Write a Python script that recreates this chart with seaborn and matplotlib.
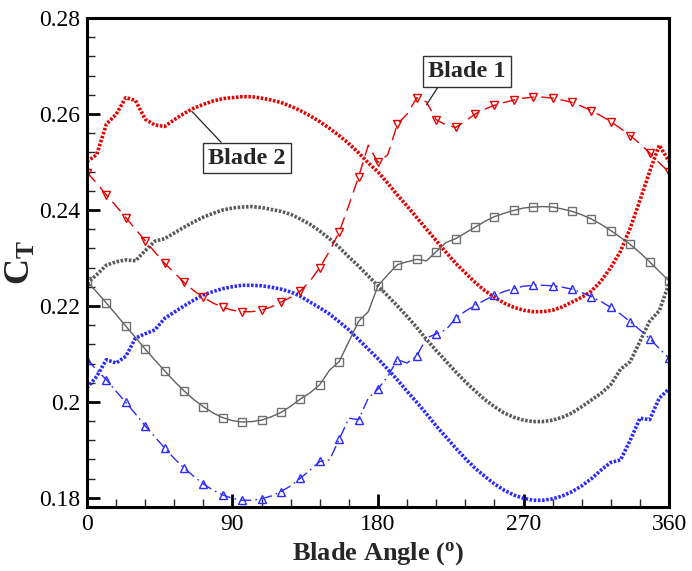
import numpy as np
import pandas as pd
import matplotlib
matplotlib.use("Agg")
import matplotlib.pyplot as plt
import seaborn as sns

# Blade azimuth (deg), sampled every 6 degrees
angle = np.arange(0, 361, 6)

# Thrust coefficient series
blade1_ct = [0.2478, 0.2456, 0.2431, 0.2408, 0.2384, 0.2360, 0.2336, 0.2312, 0.2289, 0.2269,
             0.2249, 0.2232, 0.2218, 0.2206, 0.2197, 0.2191, 0.2188, 0.2188, 0.2191, 0.2198,
             0.2208, 0.2218, 0.2231, 0.2252, 0.2280, 0.2314, 0.2354, 0.2410, 0.2469, 0.2535,
             0.2499, 0.2515, 0.2579, 0.2600, 0.2634, 0.2625, 0.2588, 0.2577, 0.2572, 0.2585,
             0.2600, 0.2610, 0.2618, 0.2624, 0.2629, 0.2633, 0.2635, 0.2635, 0.2633, 0.2629,
             0.2624, 0.2616, 0.2607, 0.2596, 0.2584, 0.2570, 0.2555, 0.2538, 0.2519, 0.2498,
             0.2479]
blade2_ct = [0.2501, 0.2515, 0.2579, 0.2599, 0.2634, 0.2628, 0.2589, 0.2577, 0.2574, 0.2588,
             0.2601, 0.2612, 0.2620, 0.2627, 0.2632, 0.2634, 0.2636, 0.2636, 0.2633, 0.2629,
             0.2624, 0.2616, 0.2607, 0.2596, 0.2584, 0.2570, 0.2555, 0.2538, 0.2519, 0.2498,
             0.2479, 0.2456, 0.2431, 0.2408, 0.2384, 0.2360, 0.2336, 0.2312, 0.2289, 0.2269,
             0.2249, 0.2232, 0.2218, 0.2206, 0.2197, 0.2191, 0.2188, 0.2188, 0.2191, 0.2198,
             0.2208, 0.2218, 0.2231, 0.2252, 0.2280, 0.2314, 0.2362, 0.2420, 0.2480, 0.2535,
             0.2501]
gray_mark_ct = [0.2251, 0.2229, 0.2206, 0.2182, 0.2158, 0.2134, 0.2110, 0.2087, 0.2065, 0.2043,
                0.2023, 0.2005, 0.1990, 0.1977, 0.1967, 0.1961, 0.1958, 0.1959, 0.1962, 0.1969,
                0.1978, 0.1991, 0.2006, 0.2019, 0.2036, 0.2066, 0.2084, 0.2126, 0.2168, 0.2188,
                0.2242, 0.2265, 0.2286, 0.2292, 0.2297, 0.2294, 0.2313, 0.2332, 0.2340, 0.2352,
                0.2364, 0.2376, 0.2386, 0.2393, 0.2399, 0.2404, 0.2406, 0.2407, 0.2406, 0.2402,
                0.2397, 0.2390, 0.2381, 0.2370, 0.2357, 0.2343, 0.2328, 0.2311, 0.2292, 0.2272,
                0.2252]
gray_dot_ct = [0.2247, 0.2265, 0.2285, 0.2292, 0.2296, 0.2294, 0.2315, 0.2335, 0.2340, 0.2352,
               0.2364, 0.2375, 0.2385, 0.2393, 0.2400, 0.2404, 0.2406, 0.2407, 0.2405, 0.2401,
               0.2397, 0.2391, 0.2381, 0.2370, 0.2356, 0.2340, 0.2322, 0.2302, 0.2283, 0.2262,
               0.2242, 0.2221, 0.2200, 0.2178, 0.2155, 0.2130, 0.2107, 0.2085, 0.2063, 0.2042,
               0.2023, 0.2005, 0.1990, 0.1977, 0.1968, 0.1962, 0.1959, 0.1959, 0.1962, 0.1968,
               0.1977, 0.1990, 0.2004, 0.2018, 0.2036, 0.2068, 0.2084, 0.2126, 0.2168, 0.2190,
               0.2247]
blue_mark_ct = [0.2088, 0.2067, 0.2046, 0.2022, 0.1999, 0.1975, 0.1950, 0.1927, 0.1904, 0.1882,
                0.1862, 0.1845, 0.1829, 0.1816, 0.1806, 0.1799, 0.1795, 0.1795, 0.1798, 0.1804,
                0.1813, 0.1825, 0.1841, 0.1858, 0.1876, 0.1879, 0.1922, 0.1966, 0.1963, 0.2008,
                0.2027, 0.2053, 0.2088, 0.2081, 0.2096, 0.2133, 0.2142, 0.2150, 0.2174, 0.2189,
                0.2201, 0.2212, 0.2222, 0.2230, 0.2236, 0.2241, 0.2243, 0.2243, 0.2242, 0.2239,
                0.2235, 0.2228, 0.2219, 0.2209, 0.2197, 0.2183, 0.2167, 0.2150, 0.2132, 0.2111,
                0.2091]
blue_dot_ct = [0.2029, 0.2053, 0.2088, 0.2081, 0.2095, 0.2133, 0.2142, 0.2150, 0.2174, 0.2187,
               0.2200, 0.2212, 0.2223, 0.2230, 0.2236, 0.2240, 0.2243, 0.2243, 0.2242, 0.2239,
               0.2235, 0.2229, 0.2220, 0.2208, 0.2196, 0.2183, 0.2167, 0.2150, 0.2130, 0.2110,
               0.2090, 0.2068, 0.2046, 0.2022, 0.1999, 0.1975, 0.1950, 0.1927, 0.1904, 0.1882,
               0.1862, 0.1845, 0.1829, 0.1816, 0.1806, 0.1799, 0.1795, 0.1795, 0.1798, 0.1804,
               0.1813, 0.1825, 0.1840, 0.1858, 0.1874, 0.1879, 0.1920, 0.1966, 0.1963, 0.2008,
               0.2027]

x_ticks = [0, 90, 180, 270, 360]
x_tick_labels = ["0", "90", "180", "270", "360"]
y_ticks = [0.18, 0.20, 0.22, 0.24, 0.26, 0.28]
y_tick_labels = ["0.18", "0.2", "0.22", "0.24", "0.26", "0.28"]

sns.set_theme(style="white")
plt.rcParams["font.family"] = ["Liberation Serif", "DejaVu Serif"]
plt.rcParams["mathtext.fontset"] = "custom"
plt.rcParams["mathtext.rm"] = "Liberation Serif"
plt.rcParams["mathtext.bf"] = "Liberation Serif:bold"
plt.rcParams["mathtext.it"] = "Liberation Serif:italic"

RED = "#e60000"
GRAY_DOT = "#5a5a5a"
GRAY_LINE = "#606060"
BLUE = "#2a2aff"

fig = plt.figure(figsize=(6.92, 5.71), dpi=100)
ax = fig.add_axes([0.1257, 0.1121, 0.8411, 0.8564])

series = [
    # name, values, style
    ("gray_dot", gray_dot_ct, dict(color=GRAY_DOT, lw=2.6, linestyle=(0, (0.7, 0.45)))),
    ("blue_dot", blue_dot_ct, dict(color=BLUE, lw=2.6, linestyle=(0, (0.7, 0.45)))),
    ("blade2", blade2_ct, dict(color=RED, lw=2.6, linestyle=(0, (0.7, 0.45)))),
    ("gray_mark", gray_mark_ct, dict(color=GRAY_LINE, lw=1.0, linestyle="-",
                                     marker="s", markersize=5.2, markerfacecolor="none",
                                     markeredgecolor="#707070", markeredgewidth=1.0,
                                     markevery=2)),
    ("blue_mark", blue_mark_ct, dict(color=BLUE, lw=1.0, linestyle=(0, (8, 3, 1.2, 3)),
                                     marker="^", markersize=6, markerfacecolor="none",
                                     markeredgecolor=BLUE, markeredgewidth=1.0,
                                     markevery=2)),
    ("blade1", blade1_ct, dict(color=RED, lw=1.0, linestyle=(0, (9, 5)),
                               marker="v", markersize=6, markerfacecolor="none",
                               markeredgecolor=RED, markeredgewidth=1.0,
                               markevery=2)),
]

for name, values, style in series:
    df = pd.DataFrame({"angle": angle, "ct": values})
    sns.lineplot(data=df, x="angle", y="ct", ax=ax, sort=False, estimator=None,
                 legend=False, **style)

ax.set_xlim(0, 360)
ax.set_ylim(0.1781, 0.28)
ax.set_xticks(x_ticks)
ax.set_xticklabels(x_tick_labels)
ax.set_yticks(y_ticks)
ax.set_yticklabels(y_tick_labels)
ax.set_xticks(np.arange(0, 361, 18), minor=True)
ax.set_yticks(np.arange(0.18, 0.2801, 0.004), minor=True)

ax.tick_params(which="major", direction="in", length=9.5, width=2.0,
               labelsize=17, colors="black", top=False, right=False,
               left=True, bottom=True, pad=5)
ax.tick_params(which="minor", direction="in", length=5.8, width=1.0,
               top=False, right=False, left=True, bottom=True)
for sp in ax.spines.values():
    sp.set_linewidth(2.2)
    sp.set_color("black")

ax.set_xlabel(r"Blade Angle ($\mathbf{^o}$)", fontsize=19, fontweight="bold")
ax.xaxis.set_label_coords(0.5, -0.067)
ax.set_ylabel(r"$\mathbf{C_T}$", fontsize=26)
ax.yaxis.set_label_coords(-0.085, 0.5)

box = dict(boxstyle="square,pad=0.2", fc="white", ec="#333333", lw=1.0)
ax.annotate("Blade 2", xy=(65, 0.2605), xytext=(99, 0.2508),
            fontsize=17.5, fontweight="bold", ha="center", va="center", bbox=box,
            arrowprops=dict(arrowstyle="-", color="#222222", lw=0.9,
                            relpos=(0.23, 1.0), shrinkA=0, shrinkB=0))
ax.annotate("Blade 1", xy=(210, 0.2619), xytext=(235, 0.2689),
            fontsize=17.5, fontweight="bold", ha="center", va="center", bbox=box,
            arrowprops=dict(arrowstyle="-", color="#222222", lw=0.9,
                            relpos=(0.17, 0.0), shrinkA=0, shrinkB=0))

fig.savefig("out.png", dpi=100)
